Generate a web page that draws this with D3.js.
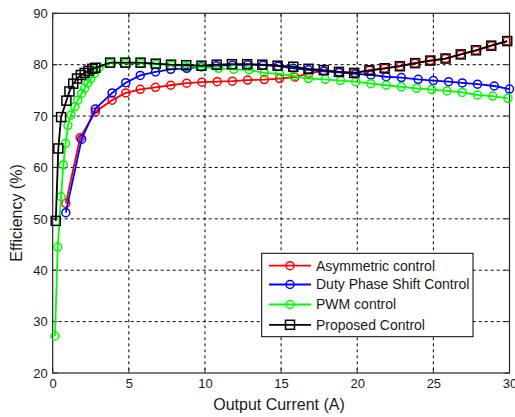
<!DOCTYPE html>
<html><head><meta charset="utf-8">
<script src="https://cdn.jsdelivr.net/npm/d3@7/dist/d3.min.js"></script>
<style>body{margin:0;background:#fff}svg{display:block}text{font-family:"Liberation Sans",Arial,sans-serif}</style>
</head><body><svg id="c" width="515" height="417"></svg>
<script>
const xTicks=[0,5,10,15,20,25,30];
const yTicks=[20,30,40,50,60,70,80,90];
const seriesNames=["Asymmetric control","Duty Phase Shift Control","PWM control","Proposed Control"];
const seriesColors=["#ff0000","#0000ff","#00ff00","#000000"];
const seriesMarkers=["circle","circle","circle","square"];

const asymI=[0.86,1.8,2.8,3.9,4.8,5.75,6.75,7.75,8.8,9.8,10.8,11.8,12.8,13.9,14.9,15.9,16.8,17.8,18.8,19.8,20.8,21.8,22.8,23.8,24.8,25.8,26.8,27.8,28.8,29.85];
const asymE=[53.0,65.8,70.8,73.1,74.5,75.2,75.6,76.0,76.4,76.6,76.7,76.8,77.0,77.1,77.3,77.6,78.3,78.8,78.6,78.4,78.9,79.3,79.7,80.3,80.8,81.2,82.0,82.8,83.7,84.6];

const dpsI=[0.86,1.9,2.8,3.9,4.8,5.75,6.75,7.75,8.8,9.75,10.75,11.8,12.8,13.8,14.8,15.8,16.8,17.8,18.8,19.9,20.9,21.9,22.9,24,25,26,26.9,27.9,29,30];
const dpsE=[51.2,65.5,71.4,74.5,76.5,77.9,78.6,79.1,79.3,79.6,79.8,79.9,80.0,79.9,79.7,79.3,79.0,78.7,78.5,78.2,78.0,77.65,77.5,77.15,76.9,76.7,76.45,76.2,75.85,75.26];

const pwmI=[0.15,0.33,0.55,0.7,0.85,1.0,1.2,1.45,1.65,1.9,2.1,2.3,2.5,2.75,3.05,3.77,4.77,5.77,6.77,7.77,8.77,9.77,10.9,11.9,12.9,13.9,14.9,15.8,16.8,17.9,18.9,19.9,20.9,21.9,22.9,23.9,24.9,25.9,26.9,27.9,28.9,29.9];
const pwmE=[27.2,44.5,54.3,60.5,64.7,68.2,70.2,71.8,73.1,74.4,75.4,76.4,77.3,78.3,79.5,80.3,80.3,80.3,80.1,79.9,79.7,79.5,79.3,79.1,79.0,78.4,78.2,77.8,77.3,77.15,76.9,76.7,76.3,76.0,75.7,75.4,75.15,74.9,74.6,74.1,73.9,73.45];

const propI=[0.2,0.37,0.55,0.9,1.1,1.35,1.6,1.85,2.1,2.35,2.6,2.8,3.77,4.77,5.77,6.77,7.77,8.77,9.77,10.77,11.77,12.77,13.77,14.77,15.8,16.8,17.8,18.8,19.8,20.8,21.8,22.8,23.8,24.8,25.8,26.8,27.8,28.8,29.85];
const propE=[49.6,63.7,69.8,73.0,74.8,76.3,77.3,78.0,78.4,78.8,79.2,79.4,80.4,80.4,80.4,80.2,80.0,79.9,79.8,80.0,80.1,80.1,80.0,79.8,79.6,79.2,78.95,78.6,78.4,78.9,79.3,79.7,80.3,80.8,81.2,82.0,82.8,83.7,84.6];

const series=[
  {I:asymI,E:asymE},{I:dpsI,E:dpsE},{I:pwmI,E:pwmE},{I:propI,E:propE}
];

const L=52.7,R=509.5,T=13.3,B=373;
const svg=d3.select("#c");
const x=d3.scaleLinear().domain([0,30]).range([L,R]);
const y=d3.scaleLinear().domain([20,90]).range([B,T]);

// grid
const g=svg.append("g");
g.selectAll(".vg").data(xTicks.slice(1,-1)).join("line")
 .attr("x1",d=>x(d)).attr("x2",d=>x(d)).attr("y1",T).attr("y2",B)
 .attr("stroke","#000").attr("stroke-width",1).attr("stroke-dasharray","3,3");
g.selectAll(".hg").data(yTicks.slice(1,-1)).join("line")
 .attr("y1",d=>y(d)).attr("y2",d=>y(d)).attr("x1",L).attr("x2",R)
 .attr("stroke","#000").attr("stroke-width",1).attr("stroke-dasharray","3,3");

// axes
const xa=svg.append("g").attr("transform",`translate(0,${B})`)
 .call(d3.axisBottom(x).tickValues(xTicks).tickSize(0).tickPadding(6));
const ya=svg.append("g").attr("transform",`translate(${L},0)`)
 .call(d3.axisLeft(y).tickValues(yTicks).tickSize(0).tickPadding(5));
[xa,ya].forEach(a=>{a.select(".domain").remove();a.selectAll("text").attr("font-size",13).attr("fill","#1a1a1a").attr("font-family","Liberation Sans, Arial, sans-serif");});
xa.selectAll("text").attr("dy","0.71em");

// inner ticks on all sides
const tk=svg.append("g").attr("stroke","#262626");
xTicks.forEach(t=>{tk.append("line").attr("x1",x(t)).attr("x2",x(t)).attr("y1",B).attr("y2",B-5);
 tk.append("line").attr("x1",x(t)).attr("x2",x(t)).attr("y1",T).attr("y2",T+5);});
yTicks.forEach(t=>{tk.append("line").attr("y1",y(t)).attr("y2",y(t)).attr("x1",L).attr("x2",L+5);
 tk.append("line").attr("y1",y(t)).attr("y2",y(t)).attr("x1",R).attr("x2",R-5);});

// frame
svg.append("rect").attr("x",L).attr("y",T).attr("width",R-L).attr("height",B-T)
 .attr("fill","none").attr("stroke","#262626").attr("stroke-width",1.2);

// series
const line=d3.line().x(d=>x(d[0])).y(d=>y(d[1]));
series.forEach((s,i)=>{
  const pts=s.I.map((v,k)=>[v,s.E[k]]);
  const gg=svg.append("g");
  gg.append("path").attr("d",line(pts)).attr("fill","none").attr("stroke",seriesColors[i]).attr("stroke-width",1.8);
  if(seriesMarkers[i]==="circle"){
    gg.selectAll("circle").data(pts).join("circle").attr("cx",d=>x(d[0])).attr("cy",d=>y(d[1])).attr("r",4)
     .attr("fill","none").attr("stroke",seriesColors[i]).attr("stroke-width",1.5);
  } else {
    gg.selectAll("rect").data(pts).join("rect").attr("x",d=>x(d[0])-4.5).attr("y",d=>y(d[1])-4.5).attr("width",9).attr("height",9)
     .attr("fill","none").attr("stroke",seriesColors[i]).attr("stroke-width",1.5);
  }
});

// labels
svg.append("text").attr("x",279).attr("y",410).attr("text-anchor","middle").attr("font-size",16).attr("fill","#1a1a1a").text("Output Current (A)");
svg.append("text").attr("transform",`translate(22,213) rotate(-90)`).attr("text-anchor","middle").attr("font-size",16).attr("fill","#1a1a1a").text("Efficiency (%)");

// legend
const lg=svg.append("g");
lg.append("rect").attr("x",261.7).attr("y",253.3).attr("width",211.3).attr("height",83.4).attr("fill","#fff").attr("stroke","#000").attr("stroke-width",1);
const ly=[265.7,284.5,304.5,324.8];
seriesNames.forEach((n,i)=>{
  lg.append("line").attr("x1",269).attr("x2",311).attr("y1",ly[i]).attr("y2",ly[i]).attr("stroke",seriesColors[i]).attr("stroke-width",1.8);
  if(seriesMarkers[i]==="circle") lg.append("circle").attr("cx",290).attr("cy",ly[i]).attr("r",4).attr("fill","none").attr("stroke",seriesColors[i]).attr("stroke-width",1.5);
  else lg.append("rect").attr("x",285.5).attr("y",ly[i]-4.5).attr("width",9).attr("height",9).attr("fill","none").attr("stroke",seriesColors[i]).attr("stroke-width",1.5);
  lg.append("text").attr("x",316).attr("y",ly[i]).attr("dy","0.35em").attr("font-size",14).attr("fill","#1a1a1a").text(n);
});
</script></body></html>
